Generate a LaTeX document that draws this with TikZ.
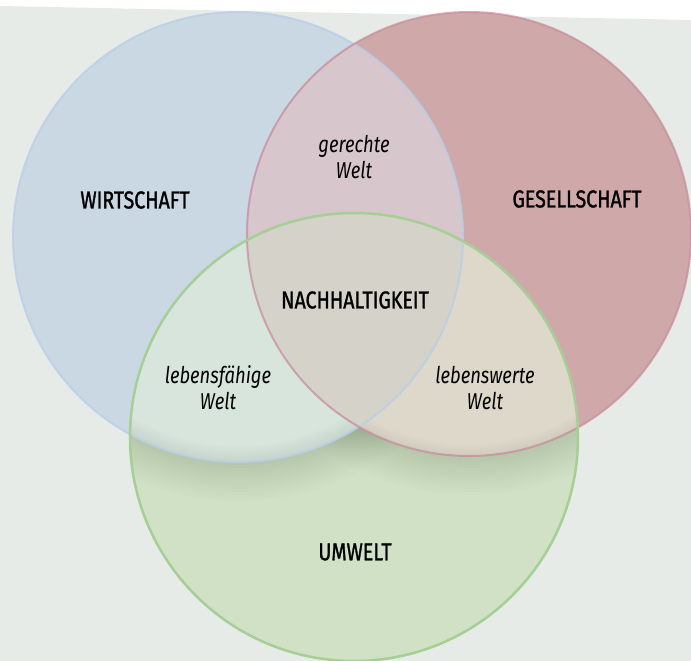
\documentclass[tikz,border=0pt]{standalone}
\usepackage{fontspec}
\setmainfont{Fira Sans}[FakeStretch=0.8]
\newfontfamily\setfont{Fira Sans}[FakeStretch=0.8, FakeBold=1.2]
\usetikzlibrary{positioning}
\definecolor{bggray}{HTML}{E6EBE7}
\definecolor{wirtfill}{HTML}{CAD8E3}
\definecolor{wirtline}{HTML}{B9CFE8}
\definecolor{gesfill}{HTML}{CFA9AA}
\definecolor{gesline}{HTML}{C88A9A}
\definecolor{umfill}{HTML}{D0E1C5}
\definecolor{umline}{HTML}{A5CF95}
\definecolor{wgfill}{HTML}{D7C6CB}
\definecolor{wufill}{HTML}{D8E5DC}
\definecolor{gufill}{HTML}{DDD8CA}
\definecolor{allfill}{HTML}{D5D3C9}

\begin{document}
\begin{tikzpicture}[x=1pt,y=-1pt,
  setlabel/.style={font=\setfont\fontsize{24.5}{28}\selectfont, text=black},
  pairlabel/.style={font=\fontsize{23}{26}\selectfont\itshape, align=center, text=black},
  halo/.style={black, opacity=0.009}]
  \useasboundingbox (0,0) rectangle (691,661);
  \fill[white] (0,0) rectangle (691,661);
  \fill[bggray] (0,6) -- (691,20) -- (691,661) -- (0,661) -- cycle;

  \coordinate (W) at (238,237);
  \coordinate (G) at (469,234);
  \coordinate (U) at (354,437);

  % single sets
  \fill[wirtfill] (W) circle[radius=225pt];
  \fill[gesfill]  (G) circle[radius=222pt];
  \fill[umfill]   (U) circle[radius=224pt];

  % pairwise overlaps
  \begin{scope}
    \clip (W) circle[radius=225pt];
    \fill[wgfill] (G) circle[radius=222pt];
    \fill[wufill] (U) circle[radius=224pt];
  \end{scope}
  \begin{scope}
    \clip (G) circle[radius=222pt];
    \fill[gufill] (U) circle[radius=224pt];
  \end{scope}
  % centre
  \begin{scope}
    \clip (W) circle[radius=225pt];
    \clip (G) circle[radius=222pt];
    \fill[allfill] (U) circle[radius=224pt];
  \end{scope}

  % soft shadow below the upper circles, green part only
  \begin{scope}[even odd rule]
    \clip (U) circle[radius=224pt];
    \clip (0,0) rectangle (691,661) (W) circle[radius=225pt];
    \clip (0,0) rectangle (691,661) (G) circle[radius=222pt];
    \foreach \w in {6,12,...,78} {
      \draw[halo, line width=\w pt] (W) circle[radius=225pt];
      \draw[halo, line width=\w pt] (G) circle[radius=222pt];
    }
  \end{scope}
  % inner shadow along the lower edges
  \begin{scope}[even odd rule]
    \clip (U) circle[radius=224pt];
    \clip (W) circle[radius=225pt];
    \clip (0,0) rectangle (691,661) (G) circle[radius=222pt];
    \foreach \w in {4,8,...,32}
      \draw[halo, line width=\w pt] (W) circle[radius=225pt];
  \end{scope}
  \begin{scope}[even odd rule]
    \clip (U) circle[radius=224pt];
    \clip (G) circle[radius=222pt];
    \clip (0,0) rectangle (691,661) (W) circle[radius=225pt];
    \foreach \w in {4,8,...,24}
      \draw[halo, line width=\w pt] (G) circle[radius=222pt];
  \end{scope}

  % outlines
  \draw[wirtline, line width=2pt, opacity=0.8] (W) circle[radius=225pt];
  \draw[gesline, line width=2pt, opacity=0.7] (G) circle[radius=222pt];
  \draw[umline, line width=2.5pt] (U) circle[radius=224pt];

  % labels
  \node[setlabel] (wirt) at (135,200) {WIRTSCHAFT};
  \node[setlabel] (ges)  at (577,199) {GESELLSCHAFT};
  \node[setlabel] (um)   at (355,552) {UMWELT};
  \node[setlabel] (nach) at (355,300) {NACHHALTIGKEIT};
  \node[pairlabel] (gerecht) at (354,157) {gerechte\\Welt};
  \node[pairlabel] (faehig)  at (218,388) {lebensfähige\\Welt};
  \node[pairlabel] (wert)    at (485,388) {lebenswerte\\Welt};
\end{tikzpicture}
\end{document}
